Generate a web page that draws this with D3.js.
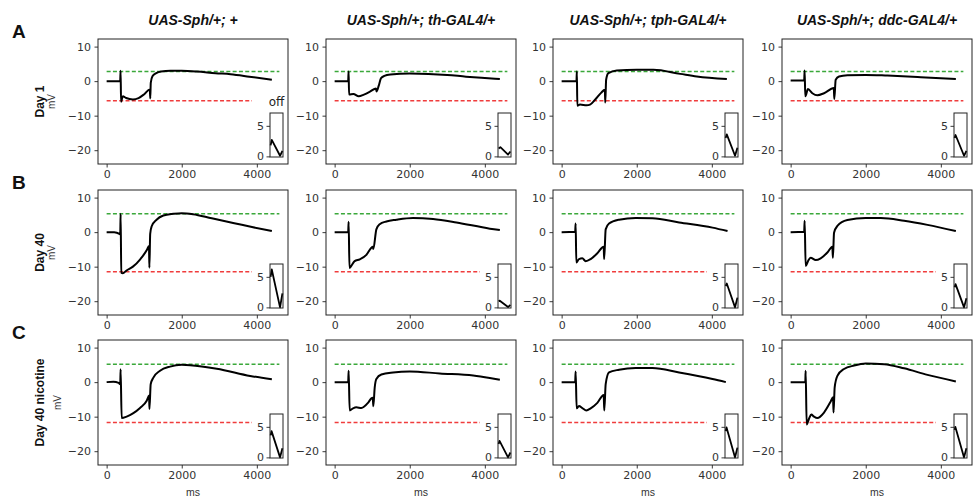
<!DOCTYPE html>
<html>
<head>
<meta charset="utf-8">
<script src="https://cdn.jsdelivr.net/npm/d3@7"></script>
<style>
  body { margin: 0; background: #fff; }
  svg { display: block; }
</style>
</head>
<body>
<div id="chart"></div>
<script>
// ERG traces: 3 conditions (rows) x 4 genotypes (columns)
const genotypes = ["UAS-Sph/+; +", "UAS-Sph/+; th-GAL4/+", "UAS-Sph/+; tph-GAL4/+", "UAS-Sph/+; ddc-GAL4/+"];
const conditions = ["Day 1", "Day 40", "Day 40 nicotine"];
const rowLetters = ["A", "B", "C"];
const xTicks = [0, 2000, 4000];
const yTicks = [10, 0, -10, -20];
const insetTicks = [0, 5];
const greenLevels = [2.8, 5.3, 5.2];
const redLevels = [-5.7, -11.5, -11.7];
const refSpan = [0, 4600];

// [ms, mV]
const tracesDay1 = [
  [[0,0],[360,0],[372,3.0],[384,-6.0],[430,-4.4],[520,-4.9],[700,-5.3],[850,-4.9],[1000,-3.8],[1150,-2.4],[1162,-5.0],[1175,-0.5],[1220,1.4],[1320,2.3],[1450,2.8],[1700,3.0],[2000,3.0],[2400,2.8],[2900,2.3],[3300,2.0],[3800,1.3],[4400,0.4]],
  [[0,0],[360,0],[372,2.8],[384,-3.9],[500,-3.7],[640,-4.4],[780,-3.9],[950,-3.0],[1100,-2.1],[1115,-3.0],[1175,-1.3],[1236,0.9],[1325,1.5],[1485,1.9],[2000,2.2],[2500,2.1],[3000,1.8],[3500,1.3],[4000,0.9],[4400,0.6]],
  [[0,0],[395,0],[405,2.8],[418,-7.1],[489,-6.8],[667,-7.0],[756,-6.8],[889,-5.4],[1050,-3.4],[1150,-2.5],[1162,-6.2],[1185,0.4],[1245,2.3],[1467,3.1],[2000,3.3],[2444,3.3],[3156,2.1],[3600,1.35],[4400,0.6]],
  [[0,0.2],[360,0.2],[373,3.1],[390,-4.4],[462,-2.3],[578,-3.5],[711,-4.1],[889,-3.5],[1150,-2.0],[1162,-5.2],[1200,0.4],[1289,1.35],[1511,1.7],[2000,1.8],[2578,1.6],[3467,1.15],[4400,0.6]]
];
const tracesDay40 = [
  [[0,0],[200,0],[340,-0.5],[362,-0.7],[372,5.3],[390,-11.8],[430,-11.9],[530,-11.1],[700,-10.0],[900,-7.8],[1070,-5.2],[1128,-4.0],[1138,-10.3],[1160,-0.5],[1200,1.7],[1330,3.6],[1510,4.8],[1780,5.3],[2000,5.5],[2300,5.2],[2800,4.0],[3400,2.6],[3900,1.4],[4400,0.3]],
  [[0,0],[360,0],[373,3.0],[395,-10.4],[444,-9.8],[533,-8.4],[667,-7.9],[844,-6.6],[978,-4.5],[1015,-4.2],[1030,-4.9],[1111,0.8],[1200,2.3],[1378,3.1],[1644,3.6],[2089,4.1],[2622,3.8],[3244,2.8],[4133,1.0],[4400,0.6]],
  [[0,0],[360,0.1],[373,2.5],[391,-8.8],[462,-7.8],[551,-7.6],[640,-8.4],[773,-7.8],[951,-6.1],[1120,-4.2],[1132,-7.8],[1173,0.8],[1262,2.5],[1529,3.6],[1973,4.1],[2418,4.0],[3129,2.8],[4018,1.3],[4418,0.3]],
  [[0,0],[360,0.1],[373,3.3],[400,-9.8],[462,-8.4],[533,-7.4],[667,-8.1],[800,-7.6],[978,-5.9],[1111,-4.2],[1125,-7.4],[1156,-0.2],[1245,1.8],[1511,3.5],[2000,4.1],[2400,4.1],[3022,3.3],[3644,2.1],[4400,0.3]]
];
const tracesDay40Nic = [
  [[0,0],[180,0.1],[320,-0.2],[362,-0.6],[372,3.7],[400,-10.4],[533,-10.0],[711,-9.0],[889,-7.5],[1067,-5.4],[1130,-3.9],[1140,-7.8],[1173,-0.6],[1245,1.3],[1422,3.3],[1689,4.5],[2000,5.0],[2222,4.9],[2933,3.9],[3822,1.8],[4400,0.8]],
  [[0,0],[360,0],[373,3.3],[400,-8.2],[489,-7.6],[578,-7.3],[711,-7.5],[889,-6.0],[978,-4.7],[1015,-4.5],[1030,-7.0],[1067,-1.6],[1111,0.9],[1244,2.2],[1556,2.8],[2000,3.1],[2800,2.5],[3689,1.9],[4133,1.2],[4400,0.7]],
  [[0,0],[360,0],[373,3.1],[400,-7.6],[462,-6.9],[551,-7.5],[658,-8.2],[773,-7.6],[951,-6.0],[1120,-3.7],[1135,-8.2],[1173,-0.6],[1262,2.8],[1529,3.6],[1973,4.1],[2418,4.1],[3129,2.8],[4018,0.9],[4373,0.0]],
  [[0,0],[390,0],[400,3.3],[427,-12.3],[489,-10.6],[551,-9.4],[622,-10.0],[711,-10.4],[889,-8.8],[1067,-5.6],[1130,-4.4],[1142,-8.8],[1173,-1.5],[1245,1.8],[1422,3.8],[1689,4.8],[2000,5.4],[2489,5.2],[3022,4.0],[3644,2.1],[4400,0.2]]
];

// "off" transient insets, [relative time, mV]
const insetDay1 = [
  [[0,1.8],[0.1,2.7],[0.8,0.1],[1,0.9]],
  [[0,1.3],[0.15,1.5],[0.8,0.3],[1,0.8]],
  [[0,3.0],[0.1,3.6],[0.8,0.1],[1,1.4]],
  [[0,3.0],[0.08,3.5],[0.8,0.1],[1,0.9]]
];
const insetDay40 = [
  [[0,5.0],[0.1,6.2],[0.8,0.0],[1,2.3]],
  [[0,1.0],[0.1,1.1],[0.8,0.05],[1,0.4]],
  [[0,3.5],[0.1,3.9],[0.8,0.0],[1,1.6]],
  [[0,3.3],[0.08,3.8],[0.8,0.0],[1,1.5]]
];
const insetDay40Nic = [
  [[0,3.6],[0.08,4.3],[0.8,0.0],[1,1.5]],
  [[0,2.2],[0.08,2.7],[0.8,0.0],[1,0.8]],
  [[0,4.3],[0.08,4.9],[0.8,0.0],[1,1.6]],
  [[0,4.5],[0.06,5.0],[0.8,0.0],[1,1.5]]
];

const traces = [tracesDay1, tracesDay40, tracesDay40Nic];
const insets = [insetDay1, insetDay40, insetDay40Nic];

const width = 974, height = 498;
const colLeft = [98, 326, 553, 782];
const rowTop = [39, 190, 340];
const panelW = 190, panelH = 125;
const tickFont = "'DejaVu Sans', sans-serif";
const textFont = "'Liberation Sans', Arial, sans-serif";

const svg = d3.select("#chart").append("svg")
  .attr("width", width)
  .attr("height", height);

svg.append("rect").attr("width", width).attr("height", height).attr("fill", "#fff");

const x = d3.scaleLinear().domain([-230, 4830]).range([0, panelW]);
const y = d3.scaleLinear().domain([-24, 12.2]).range([panelH, 0]);

const line = d3.line()
  .x(d => x(d[0]))
  .y(d => y(d[1]))
  .curve(d3.curveMonotoneX);

function styleAxis(g) {
  g.select(".domain").remove();
  g.selectAll(".tick line").attr("stroke", "#222").attr("stroke-width", 0.9);
  g.selectAll(".tick text")
    .attr("fill", "#333")
    .style("font-family", tickFont)
    .style("font-size", "11px");
}

// column titles
genotypes.forEach((name, c) => {
  svg.append("text")
    .attr("x", colLeft[c] + panelW / 2)
    .attr("y", 25)
    .attr("text-anchor", "middle")
    .style("font-family", textFont)
    .style("font-weight", "bold")
    .style("font-style", "italic")
    .style("font-size", "14px")
    .attr("fill", "#111")
    .text(name);
});

const labelX = [[44, 55], [44, 55], [44, 61]];

conditions.forEach((cond, r) => {
  // row letter
  svg.append("text")
    .attr("x", 12)
    .attr("y", rowTop[r] - 1)
    .style("font-family", textFont)
    .style("font-weight", "bold")
    .style("font-size", "19px")
    .attr("fill", "#111")
    .text(rowLetters[r]);

  const cy = rowTop[r] + panelH / 2;
  svg.append("text")
    .attr("transform", `translate(${labelX[r][0]},${cy}) rotate(-90)`)
    .attr("text-anchor", "middle")
    .style("font-family", textFont)
    .style("font-weight", "bold")
    .style("font-size", "12px")
    .attr("fill", "#111")
    .text(cond);
  svg.append("text")
    .attr("transform", `translate(${labelX[r][1]},${cy}) rotate(-90)`)
    .attr("text-anchor", "middle")
    .style("font-family", textFont)
    .style("font-size", "10px")
    .attr("fill", "#333")
    .text("mV");

  genotypes.forEach((gname, c) => {
    const g = svg.append("g")
      .attr("transform", `translate(${colLeft[c]},${rowTop[r]})`);

    // reference levels
    g.append("line")
      .attr("x1", x(refSpan[0])).attr("x2", x(refSpan[1]))
      .attr("y1", y(greenLevels[r])).attr("y2", y(greenLevels[r]))
      .attr("stroke", "#3aa83a").attr("stroke-width", 1.5)
      .attr("stroke-dasharray", "4,2.3");
    g.append("line")
      .attr("x1", x(refSpan[0])).attr("x2", x(refSpan[1]))
      .attr("y1", y(redLevels[r])).attr("y2", y(redLevels[r]))
      .attr("stroke", "#f03c3c").attr("stroke-width", 1.5)
      .attr("stroke-dasharray", "4,2.3");

    g.append("path")
      .datum(traces[r][c])
      .attr("fill", "none")
      .attr("stroke", "#000")
      .attr("stroke-width", 2)
      .attr("stroke-linejoin", "round")
      .attr("d", line);

    g.append("g")
      .attr("transform", `translate(0,${panelH})`)
      .call(d3.axisBottom(x).tickValues(xTicks).tickFormat(d3.format("d")).tickSize(3.5).tickPadding(3))
      .call(styleAxis);

    g.append("g")
      .call(d3.axisLeft(y).tickValues(yTicks).tickSize(3.5).tickPadding(3.5))
      .call(styleAxis);

    g.append("rect")
      .attr("width", panelW).attr("height", panelH)
      .attr("fill", "none").attr("stroke", "#222").attr("stroke-width", 1);

    // inset with the "off" transient
    const iw = 13, ih = 44;
    const hasTitle = r === 0 && c === 0;
    const ig = g.append("g")
      .attr("transform", `translate(${panelW - 18},${panelH - 51})`);
    const ix = d3.scaleLinear().domain([-0.05, 1.05]).range([0, iw]);
    const iy = d3.scaleLinear().domain([-0.1, 7.1]).range([ih, 0]);

    ig.append("rect")
      .attr("x", -18).attr("y", hasTitle ? -17 : 0)
      .attr("width", 18 + iw).attr("height", ih + (hasTitle ? 17 : 0) + 4)
      .attr("fill", "#fff");

    ig.append("path")
      .datum(insets[r][c])
      .attr("fill", "none")
      .attr("stroke", "#000")
      .attr("stroke-width", 1.8)
      .attr("stroke-linejoin", "round")
      .attr("d", d3.line().x(d => ix(d[0])).y(d => iy(d[1])));

    ig.append("g")
      .call(d3.axisLeft(iy).tickValues(insetTicks).tickSize(3.5).tickPadding(2.5))
      .call(styleAxis);

    ig.append("rect")
      .attr("width", iw).attr("height", ih)
      .attr("fill", "none").attr("stroke", "#222").attr("stroke-width", 1);

    if (hasTitle) {
      ig.append("text")
        .attr("x", iw / 2).attr("y", -7)
        .attr("text-anchor", "middle")
        .style("font-family", tickFont)
        .style("font-size", "12px")
        .attr("fill", "#222")
        .text("off");
    }

    if (r === conditions.length - 1) {
      g.append("text")
        .attr("x", panelW / 2)
        .attr("y", panelH + 31)
        .attr("text-anchor", "middle")
        .style("font-family", textFont)
        .style("font-size", "10.5px")
        .attr("fill", "#333")
        .text("ms");
    }
  });
});
</script>
</body>
</html>
